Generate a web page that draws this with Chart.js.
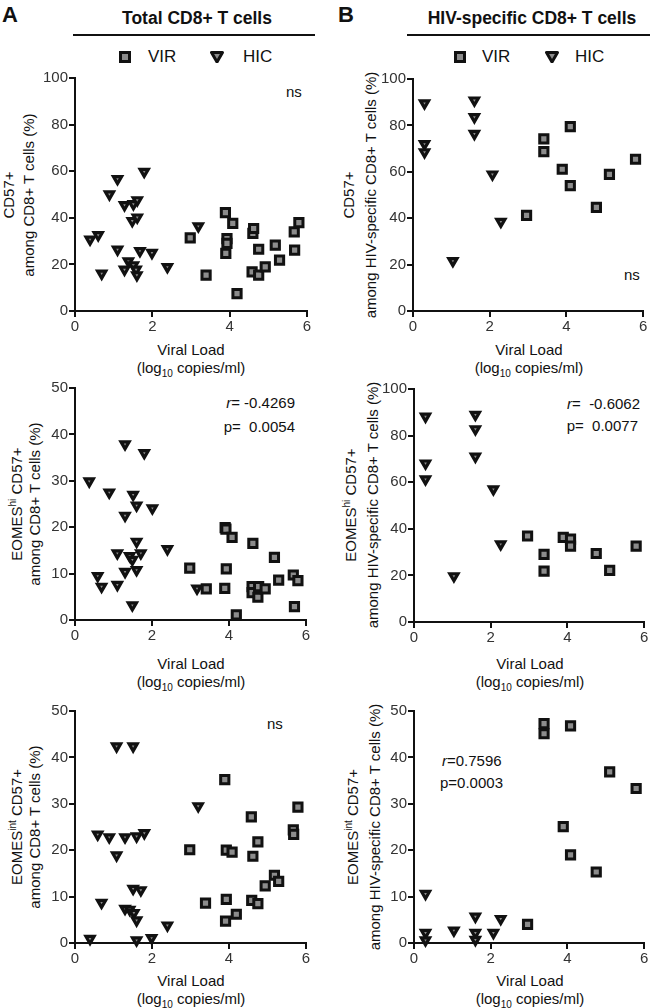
<!DOCTYPE html>
<html lang="en">
<head>
    <meta charset="UTF-8">
    <title>CD57+ vs viral load</title>
    <script src="https://cdn.jsdelivr.net/npm/chart.js@4.4.1/dist/chart.umd.min.js"></script>
    <style>
        body {
            margin: 0;
            padding: 0;
            background: #ffffff;
            font-family: "Liberation Sans", Arial, sans-serif;
            color: #111;
            overflow: hidden;
        }
        #page {
            position: relative;
            width: 650px;
            height: 1008px;
        }
        canvas, .txt, .ytitle, .xtitle, .rule, .mark, .leg {
            position: absolute;
        }
        .letter { position: absolute; font-size: 22px; font-weight: bold; top: 2px; }
        .head { position: absolute; top: 8px; width: 242px; text-align: center; font-size: 17.5px; font-weight: bold; }
        .rule { top: 34px; height: 2px; background: #111; }
        .leg { top: 47px; font-size: 17px; line-height: 20px; white-space: nowrap; }
        .mark { top: 51px; }
        .ytitle {
            width: 300px; height: 40px; text-align: center;
            font-size: 15px; line-height: 20px; transform: rotate(-90deg); white-space: nowrap;
        }
        .xtitle { width: 240px; text-align: center; font-size: 15px; line-height: 18px; }
        .txt { font-size: 15px; line-height: 18px; white-space: nowrap; }
        sup, sub { font-size: 10px; line-height: 0; }
    </style>
</head>
<body>
<div id="page">
    <div class="letter" style="left:2px">A</div>
    <div class="letter" style="left:338px">B</div>
    <div class="head" style="left:76px">Total CD8+ T cells</div>
    <div class="head" style="left:411px">HIV-specific CD8+ T cells</div>
    <div class="rule" style="left:73px;width:242px"></div>
    <div class="rule" style="left:407px;width:243px"></div>

    <!-- legends -->
    <svg class="mark" style="left:119px" width="12" height="12"><rect x="1.5" y="1.5" width="9" height="9" fill="#8c8c8c" stroke="#111" stroke-width="3"/></svg>
    <div class="leg" style="left:148px">VIR</div>
    <svg class="mark" style="left:210px" width="14" height="12"><path d="M1.5 1.5 L12.5 1.5 L7 11 Z" fill="#8c8c8c" stroke="#111" stroke-width="3" stroke-linejoin="round"/></svg>
    <div class="leg" style="left:243px">HIC</div>
    <svg class="mark" style="left:454px" width="12" height="12"><rect x="1.5" y="1.5" width="9" height="9" fill="#8c8c8c" stroke="#111" stroke-width="3"/></svg>
    <div class="leg" style="left:482px">VIR</div>
    <svg class="mark" style="left:545px" width="14" height="12"><path d="M1.5 1.5 L12.5 1.5 L7 11 Z" fill="#8c8c8c" stroke="#111" stroke-width="3" stroke-linejoin="round"/></svg>
    <div class="leg" style="left:575px">HIC</div>

    <!-- y axis titles -->
    <div class="ytitle" style="left:-131px;top:175px">CD57+<br>among CD8+ T cells (%)</div>
    <div class="ytitle" style="left:210px;top:173px;line-height:22px;height:44px">CD57+<br>among HIV-specific CD8+ T cells (%)</div>
    <div class="ytitle" style="left:-124px;top:486px;line-height:18px;height:36px">EOMES<sup>hi</sup> CD57+<br>among CD8+ T cells (%)</div>
    <div class="ytitle" style="left:212px;top:483px;line-height:22px;height:44px">EOMES<sup>hi</sup> CD57+<br>among HIV-specific CD8+ T cells (%)</div>
    <div class="ytitle" style="left:-124px;top:809px;line-height:18px;height:36px">EOMES<sup>int</sup> CD57+<br>among CD8+ T cells (%)</div>
    <div class="ytitle" style="left:214px;top:805px;line-height:22px;height:44px">EOMES<sup>int</sup> CD57+<br>among HIV-specific CD8+ T cells (%)</div>

    <!-- x axis titles -->
    <div class="xtitle" style="left:71px;top:341px">Viral Load<br>(log<sub>10</sub> copies/ml)</div>
    <div class="xtitle" style="left:409px;top:341px">Viral Load<br>(log<sub>10</sub> copies/ml)</div>
    <div class="xtitle" style="left:71px;top:655px">Viral Load<br>(log<sub>10</sub> copies/ml)</div>
    <div class="xtitle" style="left:410px;top:655px">Viral Load<br>(log<sub>10</sub> copies/ml)</div>
    <div class="xtitle" style="left:71px;top:972px">Viral Load<br>(log<sub>10</sub> copies/ml)</div>
    <div class="xtitle" style="left:410px;top:972px">Viral Load<br>(log<sub>10</sub> copies/ml)</div>

    <!-- statistics -->
    <div class="txt" style="left:286px;top:83px">ns</div>
    <div class="txt" style="left:624px;top:266px">ns</div>
    <div class="txt" style="left:267px;top:715px">ns</div>
    <div class="txt" style="right:355px;top:394px"><i>r</i>= -0.4269</div>
    <div class="txt" style="right:355px;top:418px">p=&nbsp; 0.0054</div>
    <div class="txt" style="right:10px;top:395px"><i>r</i>= &nbsp;-0.6062</div>
    <div class="txt" style="right:12px;top:417px">p=&nbsp; 0.0077</div>
    <div class="txt" style="left:442px;top:752px"><i>r</i>=0.7596</div>
    <div class="txt" style="left:440px;top:774px">p=0.0003</div>

    <canvas id="a1" width="289" height="267" style="left:30px;top:66px"></canvas>
    <canvas id="b1" width="284" height="266" style="left:368px;top:67px"></canvas>
    <canvas id="a2" width="288" height="266" style="left:30px;top:376px"></canvas>
    <canvas id="b2" width="284" height="267" style="left:369px;top:377px"></canvas>
    <canvas id="a3" width="288" height="266" style="left:30px;top:699px"></canvas>
    <canvas id="b3" width="284" height="266" style="left:369px;top:699px"></canvas>
</div>

<script>
    // Total CD8+ : CD57+
    const totCd57HicX = [0.39, 0.6, 0.69, 0.89, 1.1, 1.1, 1.28, 1.28, 1.38, 1.51, 1.61, 1.48, 1.61, 1.51, 1.58, 1.6, 1.68, 1.79, 1.99, 2.39, 3.19];
    const totCd57HicY = [30.7, 32.6, 16.1, 50.1, 56.7, 26.4, 45.5, 17.8, 21.4, 45.9, 47.6, 38.7, 40.2, 19.7, 17.8, 15.4, 25.8, 59.8, 25, 18.9, 36.4];
    const totCd57VirX = [2.98, 3.39, 3.89, 3.93, 3.93, 3.9, 4.08, 4.19, 4.6, 4.62, 4.58, 4.75, 4.75, 4.92, 5.18, 5.29, 5.67, 5.68, 5.79];
    const totCd57VirY = [31.4, 15.4, 42.2, 31.1, 29, 24.7, 37.6, 7.5, 33.3, 35.4, 16.8, 26.5, 15.4, 18.9, 28.3, 21.8, 34, 26.1, 37.9];

    // Total CD8+ : EOMEShi CD57+
    const totHiHicX = [0.37, 0.59, 0.69, 0.89, 1.1, 1.1, 1.3, 1.3, 1.3, 1.42, 1.51, 1.49, 1.49, 1.6, 1.6, 1.6, 1.71, 1.8, 2.01, 2.4, 3.17];
    const totHiHicY = [29.9, 9.5, 7.2, 27.5, 14.4, 7.6, 37.9, 22.5, 10.4, 13.8, 27, 13, 3.2, 24.7, 16.9, 10.8, 14.4, 36, 24.1, 15.3, 6.8];
    const totHiVirX = [2.98, 3.41, 3.89, 3.9, 3.92, 3.93, 4.08, 4.19, 4.6, 4.6, 4.62, 4.75, 4.77, 4.94, 5.18, 5.29, 5.67, 5.7, 5.79];
    const totHiVirY = [11.2, 6.7, 6.8, 19.9, 19.6, 11, 17.8, 1.1, 7.2, 5.9, 16.5, 4.9, 7.2, 6.7, 13.5, 8.6, 9.7, 2.9, 8.5];

    // Total CD8+ : EOMESint CD57+
    const totIntHicX = [0.39, 0.59, 0.69, 0.89, 1.08, 1.08, 1.3, 1.3, 1.42, 1.51, 1.51, 1.53, 1.6, 1.6, 1.6, 1.71, 1.8, 1.99, 2.4, 3.2];
    const totIntHicY = [0.9, 23.4, 8.7, 22.8, 42.4, 18.9, 22.8, 7.4, 7.2, 42.4, 11.7, 6.5, 23, 4.9, 0.6, 11.4, 23.7, 1.1, 3.8, 29.5];
    const totIntVirX = [2.98, 3.39, 3.89, 3.93, 4.08, 3.93, 3.91, 4.19, 4.58, 4.62, 4.75, 4.59, 4.75, 4.94, 5.18, 5.29, 5.67, 5.68, 5.79];
    const totIntVirY = [20.1, 8.6, 35.2, 20, 19.6, 9.4, 4.7, 6.2, 27.2, 18.7, 21.8, 9.2, 8.5, 12.3, 14.6, 13.3, 24.4, 23.4, 29.3];

    // HIV-specific CD8+ : CD57+
    const hivCd57HicX = [0.3, 0.3, 0.3, 1.04, 1.6, 1.6, 1.6, 2.07, 2.29];
    const hivCd57HicY = [89.6, 72, 68.5, 21.6, 90.8, 83.6, 76.4, 58.9, 38.5];
    const hivCd57VirX = [2.96, 3.41, 3.41, 3.89, 4.1, 4.1, 4.78, 5.12, 5.8];
    const hivCd57VirY = [41.2, 74.2, 68.7, 61.1, 79.5, 54, 44.7, 58.9, 65.4];

    // HIV-specific CD8+ : EOMEShi CD57+
    const hivHiHicX = [0.3, 0.3, 0.3, 1.04, 1.6, 1.6, 1.6, 2.07, 2.26];
    const hivHiHicY = [88.2, 68.1, 61.3, 19.7, 89, 82.8, 71, 57, 33.4];
    const hivHiVirX = [2.96, 3.39, 3.39, 3.89, 4.08, 4.08, 4.75, 5.1, 5.79];
    const hivHiVirY = [36.9, 29, 21.8, 36.3, 35.6, 32.6, 29.4, 22.2, 32.6];

    // HIV-specific CD8+ : EOMESint CD57+
    const hivIntHicX = [0.3, 0.3, 0.3, 1.04, 1.6, 1.6, 1.6, 2.07, 2.26];
    const hivIntHicY = [10.6, 2.2, 0.6, 2.7, 5.7, 2.2, 0.7, 2.2, 5.2];
    const hivIntVirX = [2.96, 3.39, 3.39, 3.89, 4.08, 4.08, 4.75, 5.1, 5.79];
    const hivIntVirY = [4, 47.3, 45.1, 25.1, 46.8, 19, 15.3, 36.9, 33.3];

    const axisColor = '#111';
    const tickFont = { family: '"Liberation Sans", Arial, sans-serif', size: 15 };

    function toPoints(xs, ys) {
        return xs.map((x, i) => ({ x: x, y: ys[i] }));
    }

    function scatterPanel(id, hicX, hicY, virX, virY, yMax, yStep, padRight) {
        new Chart(document.getElementById(id), {
            type: 'scatter',
            data: {
                datasets: [
                    {
                        label: 'VIR',
                        data: toPoints(virX, virY),
                        pointStyle: 'rect',
                        pointRadius: 5.8,
                        pointBorderWidth: 3,
                        pointBackgroundColor: '#8c8c8c',
                        pointBorderColor: '#111',
                        clip: false
                    },
                    {
                        label: 'HIC',
                        data: toPoints(hicX, hicY),
                        pointStyle: 'triangle',
                        pointRotation: 180,
                        pointRadius: 4.7,
                        pointBorderWidth: 3.2,
                        pointBackgroundColor: '#8c8c8c',
                        pointBorderColor: '#111',
                        clip: false
                    }
                ]
            },
            options: {
                responsive: false,
                animation: false,
                layout: { padding: { top: 12, right: padRight, left: 0, bottom: 0 } },
                plugins: { legend: { display: false }, tooltip: { enabled: false } },
                scales: {
                    x: {
                        type: 'linear',
                        min: 0,
                        max: 6,
                        afterFit: s => { s.height = 22; },
                        ticks: { stepSize: 2, color: '#333', font: tickFont, padding: 1 },
                        grid: { drawOnChartArea: false, drawTicks: true, tickLength: 6, color: axisColor, lineWidth: 2 },
                        border: { display: true, color: axisColor, width: 2 }
                    },
                    y: {
                        min: 0,
                        max: yMax,
                        afterFit: s => { s.width = 45; },
                        ticks: { stepSize: yStep, color: '#333', font: tickFont, padding: 1 },
                        grid: { drawOnChartArea: false, drawTicks: true, tickLength: 6, color: axisColor, lineWidth: 2 },
                        border: { display: true, color: axisColor, width: 2 }
                    }
                }
            }
        });
    }

    scatterPanel('a1', totCd57HicX, totCd57HicY, totCd57VirX, totCd57VirY, 100, 20, 12);
    scatterPanel('b1', hivCd57HicX, hivCd57HicY, hivCd57VirX, hivCd57VirY, 100, 20, 7);
    scatterPanel('a2', totHiHicX, totHiHicY, totHiVirX, totHiVirY, 50, 10, 12);
    scatterPanel('b2', hivHiHicX, hivHiHicY, hivHiVirX, hivHiVirY, 100, 20, 7);
    scatterPanel('a3', totIntHicX, totIntHicY, totIntVirX, totIntVirY, 50, 10, 12);
    scatterPanel('b3', hivIntHicX, hivIntHicY, hivIntVirX, hivIntVirY, 50, 10, 7);
</script>
</body>
</html>
